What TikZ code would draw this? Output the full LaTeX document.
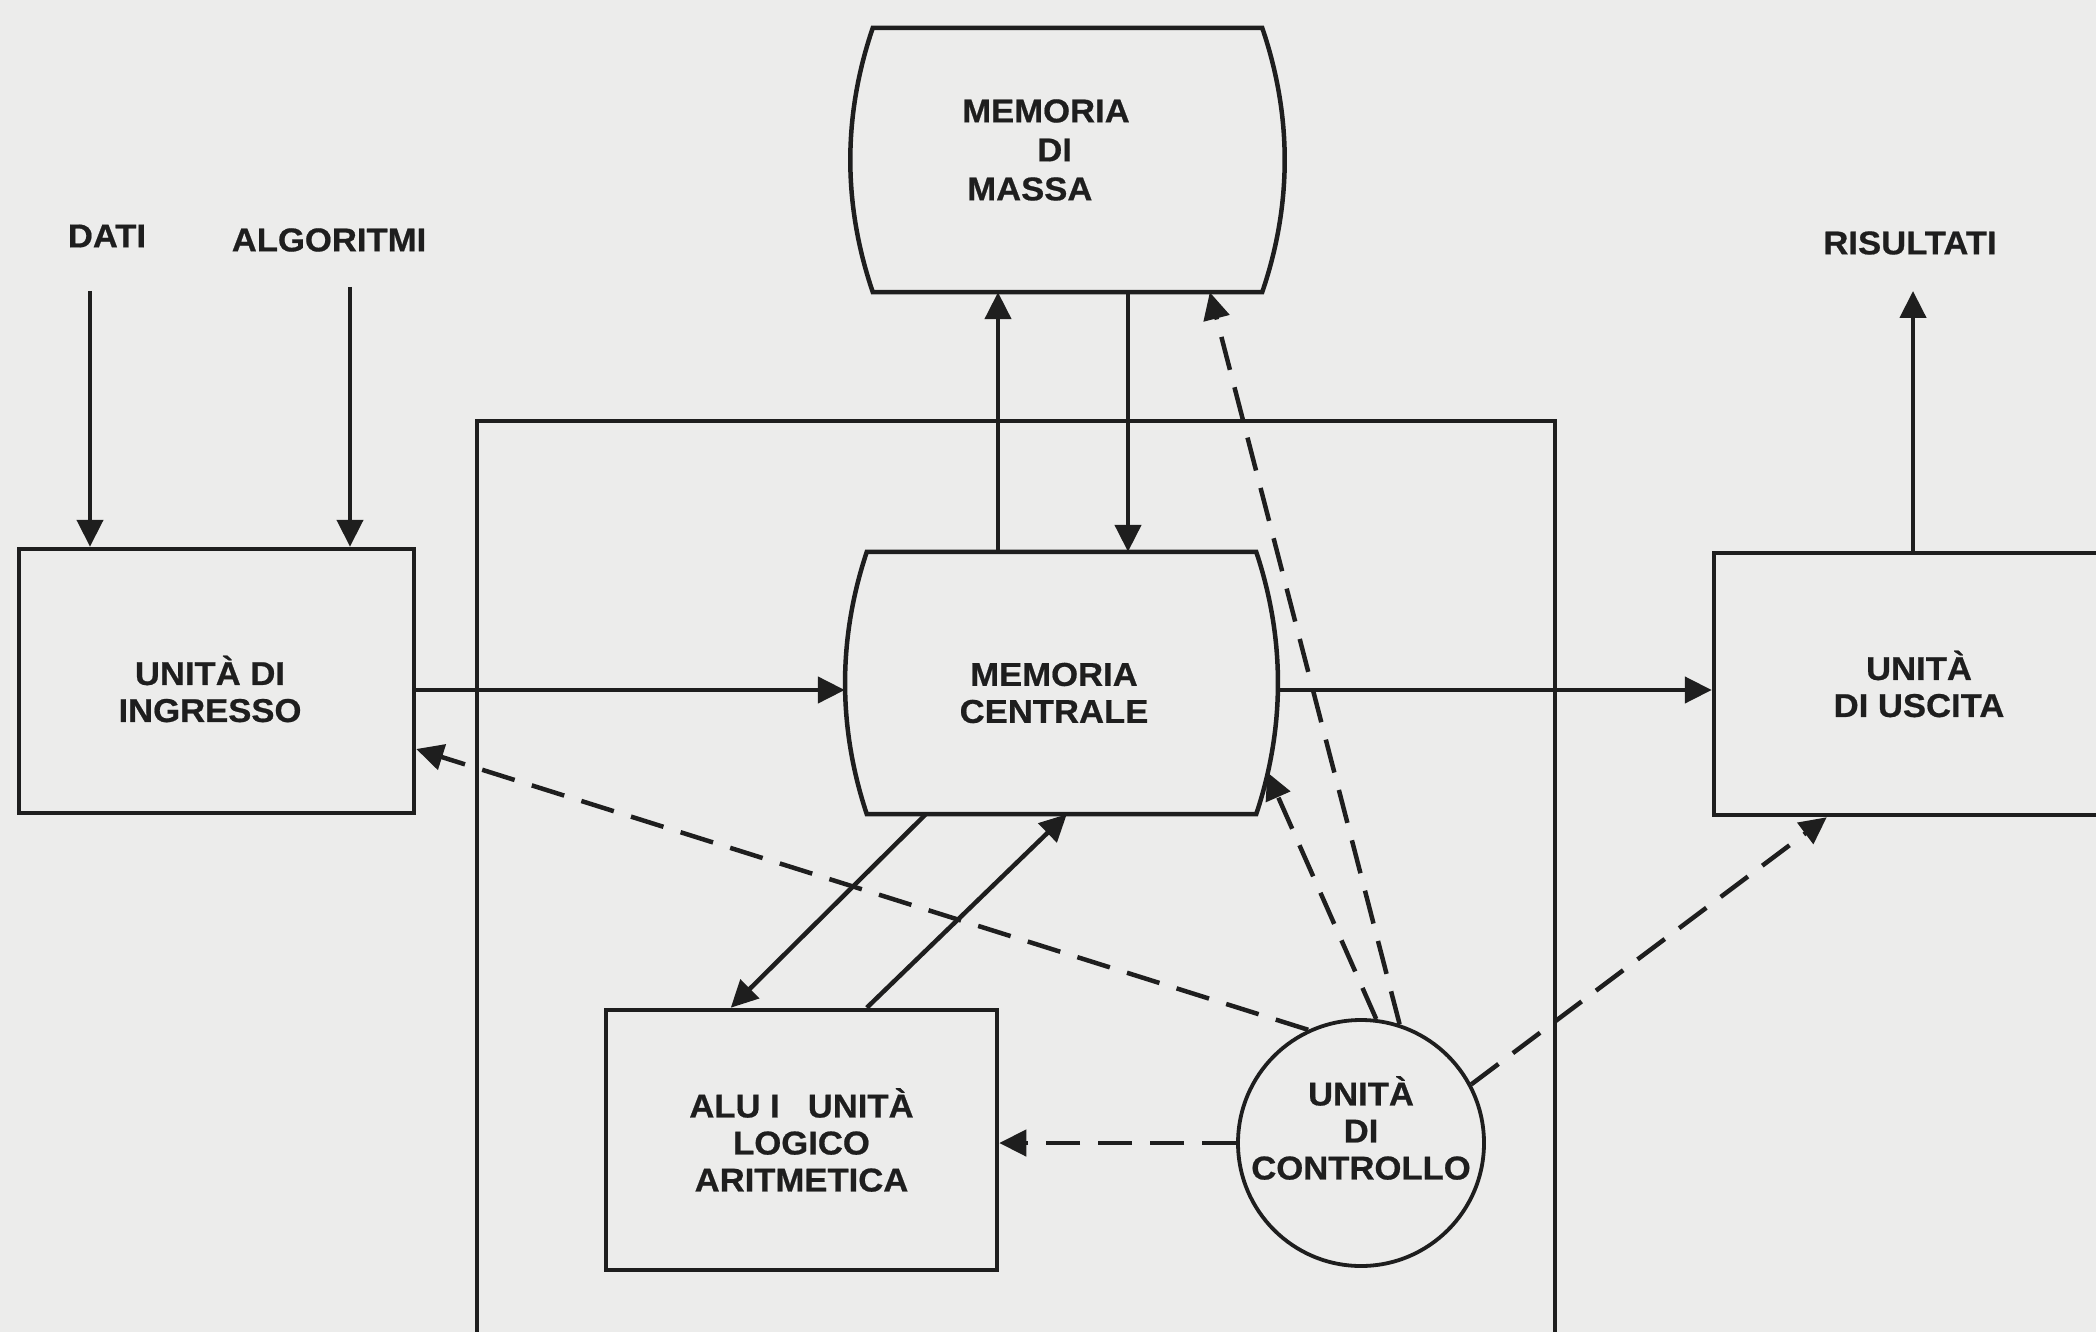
\documentclass[tikz,border=0pt]{standalone}
\usepackage{fontspec}
\setmainfont{Liberation Sans}[FakeStretch=1.05,FakeBold=0.6]
\usetikzlibrary{arrows.meta,calc}
\definecolor{paper}{RGB}{236,236,235}
\definecolor{ink}{RGB}{30,30,30}

\begin{document}
\begin{tikzpicture}[x=1pt,y=-1pt,line join=miter,
  every node/.style={font=\fontsize{33}{37}\selectfont\bfseries,text=ink},
  box/.style={draw=ink,line width=4.5pt,rectangle,inner sep=0pt,align=center},
  barrel/.style={rectangle,inner sep=0pt},
  lbl/.style={inner sep=0pt,align=center},
  outline/.style={draw=ink,line width=4.5pt},
  arr/.style={draw=ink,line width=4.5pt,-{Triangle[length=27pt,width=26pt]}},
  ctrl/.style={arr,dash pattern=on 34pt off 18pt},
]
% paper
\fill[paper] (0,0) rectangle (2096,1332);
\useasboundingbox (0,0) rectangle (2096,1332);

% central processing frame (open at the bottom)
\draw[ink,line width=3.8pt] (477,1350) -- (477,421) -- (1555,421) -- (1555,1350);

% blocks
\node[box,minimum width=395pt,minimum height=264pt] (ing) at (216.5,681) {};
\node[lbl] (ingtxt) at (210,689) {UNITÀ DI\\INGRESSO};
\node[box,minimum width=410pt,minimum height=262pt] (usc) at (1919,684) {UNITÀ\\DI USCITA};
\node[box,minimum width=391pt,minimum height=260pt] (alu) at (801.5,1140)
  {ALU I\hspace{28pt}UNITÀ\\LOGICO\\ARITMETICA};
\node[draw=ink,line width=3.8pt,circle,minimum size=246pt,inner sep=0pt] (ctl) at (1361,1143)
  {};
\node[lbl] (ctltxt) at (1361,1128) {UNITÀ\\DI\\CONTROLLO};

% barrel-shaped memories
\node[barrel,minimum width=433pt,minimum height=262pt] (cen) at (1061.5,683) {};
\node[lbl] (centxt) at (1054,693) {MEMORIA\\CENTRALE};
\draw[outline] ($(cen.north west)+(22,0)$) -- ($(cen.north east)+(-22,0)$)
  .. controls ($(cen.north east)+(7,87)$) and ($(cen.south east)+(7,-87)$) .. ($(cen.south east)+(-22,0)$)
  -- ($(cen.south west)+(22,0)$)
  .. controls ($(cen.south west)+(-7,-87)$) and ($(cen.north west)+(-7,87)$) .. cycle;

\node[barrel,minimum width=435pt,minimum height=264pt] (mas) at (1067.5,160) {};
\node[inner sep=0pt,align=left,font=\fontsize{33}{39}\selectfont\bfseries] (mastxt) at (1046,150)
  {MEMORIA\\\hspace*{75pt}DI\\\hspace*{5pt}MASSA};
\draw[outline] ($(mas.north west)+(23,0)$) -- ($(mas.north east)+(-23,0)$)
  .. controls ($(mas.north east)+(7,88)$) and ($(mas.south east)+(7,-88)$) .. ($(mas.south east)+(-23,0)$)
  -- ($(mas.south west)+(23,0)$)
  .. controls ($(mas.south west)+(-7,-88)$) and ($(mas.north west)+(-7,88)$) .. cycle;

% external labels
\node[lbl] (dati) at (107,236) {DATI};
\node[lbl] (alg) at (329,240) {ALGORITMI};
\node[lbl] (ris) at (1910,243) {RISULTATI};

% free ends and guide rows
\coordinate (datiin) at (90,291);
\coordinate (algin) at (350,287);
\coordinate (risout) at (1913,291);
\coordinate (upx) at (998,0);
\coordinate (dnx) at (1128,0);
\coordinate (hrow) at (0,690);

% data flow
\draw[arr] (datiin) -- (datiin |- ing.north);
\draw[arr] (algin) -- (algin |- ing.north);
\draw[arr] (risout |- usc.north) -- (risout);
\draw[arr] (cen.north -| upx) -- (mas.south -| upx);
\draw[arr] (mas.south -| dnx) -- (cen.north -| dnx);
\draw[arr] (ing.east |- hrow) -- (cen.west |- hrow);
\draw[arr] (cen.east |- hrow) -- (usc.west |- hrow);
\draw[arr] ($(cen.south west)+(81,0)$) -- ($(alu.north west)+(127,0)$);
\draw[arr] ($(alu.north west)+(263,0)$) -- ($(cen.south west)+(222,0)$);

% control signals
\draw[ctrl] (ctl.west) -- (ctl.west -| alu.east);
\draw[ctrl] (ctl.115) -- ($(ing.east)+(0,68)$);
\draw[ctrl] (ctl.83) -- ($(cen.south east)+(-11,-42)$);
\draw[ctrl] (ctl.72) -- ($(mas.south west)+(360,0)$);
\draw[ctrl] (ctl.28) -- ($(usc.south west)+(115,0)$);
\end{tikzpicture}
\end{document}
